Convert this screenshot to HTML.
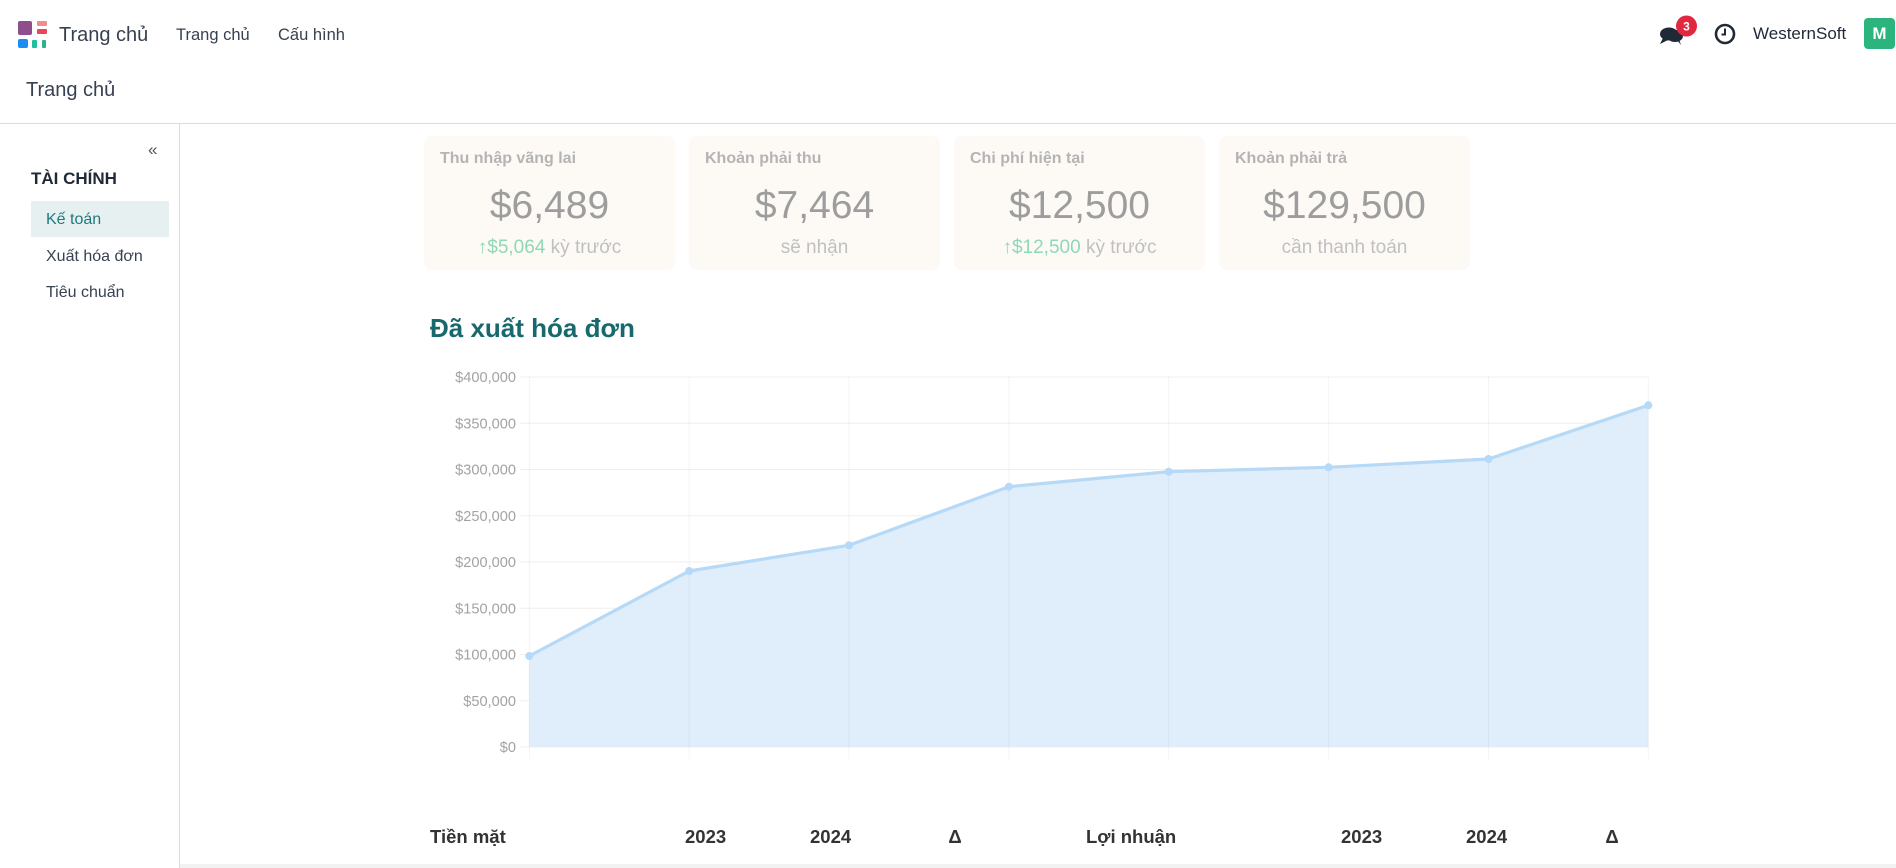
<!DOCTYPE html>
<html>
<head>
<meta charset="utf-8">
<style>
  html,body{margin:0;padding:0;background:#fff;}
  body{width:1896px;height:868px;position:relative;overflow:hidden;font-family:"Liberation Sans",Arial,sans-serif;}
  .a{position:absolute;white-space:nowrap;}
  .card{position:absolute;top:136px;height:134px;width:251px;background:#fdfaf6;border-radius:8px;}
  .ct{position:absolute;left:16px;top:13px;font-size:16px;font-weight:bold;color:#b4b4b4;line-height:20px;}
  .cv{position:absolute;left:0;right:0;top:48px;text-align:center;font-size:39px;color:#9d9d9d;line-height:44px;}
  .cs{position:absolute;left:0;right:0;top:100px;text-align:center;font-size:19px;color:#c0c0c0;line-height:24px;}
  .g{color:#8fd8b5;}
  .ar{font-weight:bold;}
  .th{position:absolute;top:826px;font-size:18.5px;font-weight:bold;color:#333;line-height:22px;}
</style>
</head>
<body>
<!-- Logo -->
<div class="a" style="left:18px;top:21px;width:14px;height:14px;background:#8f4d8b;border-radius:2px;"></div>
<div class="a" style="left:37px;top:21px;width:10px;height:5px;background:#f28b8d;border-radius:1px;"></div>
<div class="a" style="left:37px;top:29px;width:10px;height:5px;background:#e8475a;border-radius:1px;"></div>
<div class="a" style="left:18px;top:39px;width:10px;height:9px;background:#1d8cf0;border-radius:2px;"></div>
<div class="a" style="left:32px;top:40px;width:5px;height:8px;background:#1fbfa0;border-radius:1px;"></div>
<div class="a" style="left:42px;top:40px;width:4px;height:8px;background:#28b48c;border-radius:1px;"></div>

<div class="a" style="left:59px;top:22px;font-size:20px;line-height:26px;color:#374151;">Trang chủ</div>
<div class="a" style="left:176px;top:24px;font-size:16.5px;line-height:22px;color:#374151;">Trang chủ</div>
<div class="a" style="left:278px;top:24px;font-size:16.5px;line-height:22px;color:#374151;">Cấu hình</div>

<!-- right nav -->
<svg class="a" style="left:1655px;top:14px;" width="46" height="36" viewBox="0 0 46 36">
  <ellipse cx="14" cy="20" rx="9" ry="6.5" fill="#1f2937"/>
  <path d="M8 24 L5 30 L13 26 Z" fill="#1f2937"/>
  <ellipse cx="20" cy="22" rx="8" ry="6" fill="#1f2937"/>
  <path d="M22 26 L26 31 L24 25 Z" fill="#1f2937"/>
  <circle cx="31.5" cy="12" r="10.5" fill="#e0283f"/>
  <text x="31.5" y="16.5" font-family="Liberation Sans, Arial, sans-serif" font-size="12" font-weight="bold" fill="#fff" text-anchor="middle">3</text>
</svg>
<svg class="a" style="left:1713px;top:22px;" width="24" height="24" viewBox="0 0 24 24">
  <circle cx="12" cy="12" r="9" fill="none" stroke="#1f2937" stroke-width="2.6"/>
  <path d="M12 6.5 V12.5 H8.5" fill="none" stroke="#1f2937" stroke-width="2"/>
</svg>
<div class="a" style="left:1753px;top:23px;font-size:17px;line-height:22px;color:#1f2937;">WesternSoft</div>
<div class="a" style="left:1864px;top:18px;width:31px;height:31px;background:#2bb47e;border-radius:4px;color:#fff;font-weight:bold;font-size:17px;line-height:31px;text-align:center;">M</div>

<!-- breadcrumb -->
<div class="a" style="left:26px;top:77px;font-size:20px;line-height:26px;color:#374151;">Trang chủ</div>
<div class="a" style="left:0;top:123px;width:1896px;height:1px;background:#dcdcdc;"></div>
<div class="a" style="left:179px;top:124px;width:1px;height:744px;background:#dcdcdc;"></div>

<!-- sidebar -->
<div class="a" style="left:148px;top:139px;font-size:17px;line-height:22px;color:#555;">«</div>
<div class="a" style="left:31px;top:168px;font-size:17px;font-weight:bold;line-height:22px;color:#1f2937;">TÀI CHÍNH</div>
<div class="a" style="left:31px;top:201px;width:138px;height:36px;background:#e6f0f0;"></div>
<div class="a" style="left:46px;top:209px;font-size:16px;line-height:22px;color:#1d7a7e;">Kế toán</div>
<div class="a" style="left:46px;top:246px;font-size:16px;line-height:22px;color:#374151;">Xuất hóa đơn</div>
<div class="a" style="left:46px;top:282px;font-size:16px;line-height:22px;color:#374151;">Tiêu chuẩn</div>

<!-- cards -->
<div class="card" style="left:424px;">
  <div class="ct">Thu nhập vãng lai</div>
  <div class="cv">$6,489</div>
  <div class="cs"><span class="g"><span class="ar">↑</span>$5,064</span> kỳ trước</div>
</div>
<div class="card" style="left:689px;">
  <div class="ct">Khoản phải thu</div>
  <div class="cv">$7,464</div>
  <div class="cs">sẽ nhận</div>
</div>
<div class="card" style="left:954px;">
  <div class="ct">Chi phí hiện tại</div>
  <div class="cv">$12,500</div>
  <div class="cs"><span class="g"><span class="ar">↑</span>$12,500</span> kỳ trước</div>
</div>
<div class="card" style="left:1219px;">
  <div class="ct">Khoản phải trả</div>
  <div class="cv">$129,500</div>
  <div class="cs">cần thanh toán</div>
</div>

<div class="a" style="left:430px;top:312px;font-size:26px;font-weight:bold;line-height:32px;color:#17696d;">Đã xuất hóa đơn</div>

<!-- chart -->
<svg class="a" style="left:0;top:0;" width="1896" height="868" viewBox="0 0 1896 868">
  <g stroke="#efefef" stroke-width="1">
    <line x1="520" y1="377" x2="1648.3" y2="377"/>
    <line x1="520" y1="423.25" x2="1648.3" y2="423.25"/>
    <line x1="520" y1="469.5" x2="1648.3" y2="469.5"/>
    <line x1="520" y1="515.75" x2="1648.3" y2="515.75"/>
    <line x1="520" y1="562" x2="1648.3" y2="562"/>
    <line x1="520" y1="608.25" x2="1648.3" y2="608.25"/>
    <line x1="520" y1="654.5" x2="1648.3" y2="654.5"/>
    <line x1="520" y1="700.75" x2="1648.3" y2="700.75"/>
    <line x1="520" y1="747" x2="1648.3" y2="747"/>
  </g>
  <polygon points="529.3,656 689.2,571 849,545.3 1008.9,486.7 1168.7,471.7 1328.6,467.3 1488.5,459 1648.3,405.3 1648.3,747 529.3,747" fill="#deedfb" fill-opacity="0.95"/>
  <g stroke="#000" stroke-opacity="0.045" stroke-width="1">
    <line x1="529.3" y1="377" x2="529.3" y2="759"/>
    <line x1="689.2" y1="377" x2="689.2" y2="759"/>
    <line x1="849" y1="377" x2="849" y2="759"/>
    <line x1="1008.9" y1="377" x2="1008.9" y2="759"/>
    <line x1="1168.7" y1="377" x2="1168.7" y2="759"/>
    <line x1="1328.6" y1="377" x2="1328.6" y2="759"/>
    <line x1="1488.5" y1="377" x2="1488.5" y2="759"/>
    <line x1="1648.3" y1="377" x2="1648.3" y2="759"/>
  </g>
  <polyline points="529.3,656 689.2,571 849,545.3 1008.9,486.7 1168.7,471.7 1328.6,467.3 1488.5,459 1648.3,405.3" fill="none" stroke="#b5d9f6" stroke-width="3.2" stroke-linejoin="round"/>
  <g fill="#b5d9f6">
    <circle cx="529.3" cy="656" r="4"/>
    <circle cx="689.2" cy="571" r="4"/>
    <circle cx="849" cy="545.3" r="4"/>
    <circle cx="1008.9" cy="486.7" r="4"/>
    <circle cx="1168.7" cy="471.7" r="4"/>
    <circle cx="1328.6" cy="467.3" r="4"/>
    <circle cx="1488.5" cy="459" r="4"/>
    <circle cx="1648.3" cy="405.3" r="4"/>
  </g>
  <g font-family="Liberation Sans, Arial, sans-serif" font-size="14.6" fill="#a3a3a3" text-anchor="end">
    <text x="516" y="382">$400,000</text>
    <text x="516" y="428.25">$350,000</text>
    <text x="516" y="474.5">$300,000</text>
    <text x="516" y="520.75">$250,000</text>
    <text x="516" y="567">$200,000</text>
    <text x="516" y="613.25">$150,000</text>
    <text x="516" y="659.5">$100,000</text>
    <text x="516" y="705.75">$50,000</text>
    <text x="516" y="752">$0</text>
  </g>
</svg>

<!-- table header -->
<div class="th" style="left:430px;">Tiền mặt</div>
<div class="th" style="left:685px;width:40px;text-align:center;">2023</div>
<div class="th" style="left:810px;width:40px;text-align:center;">2024</div>
<div class="th" style="left:945px;width:20px;text-align:center;">Δ</div>
<div class="th" style="left:1086px;">Lợi nhuận</div>
<div class="th" style="left:1341px;width:40px;text-align:center;">2023</div>
<div class="th" style="left:1466px;width:40px;text-align:center;">2024</div>
<div class="th" style="left:1602px;width:20px;text-align:center;">Δ</div>
<div class="a" style="left:180px;top:864px;width:1716px;height:4px;background:#f2f2f2;"></div>
</body>
</html>
